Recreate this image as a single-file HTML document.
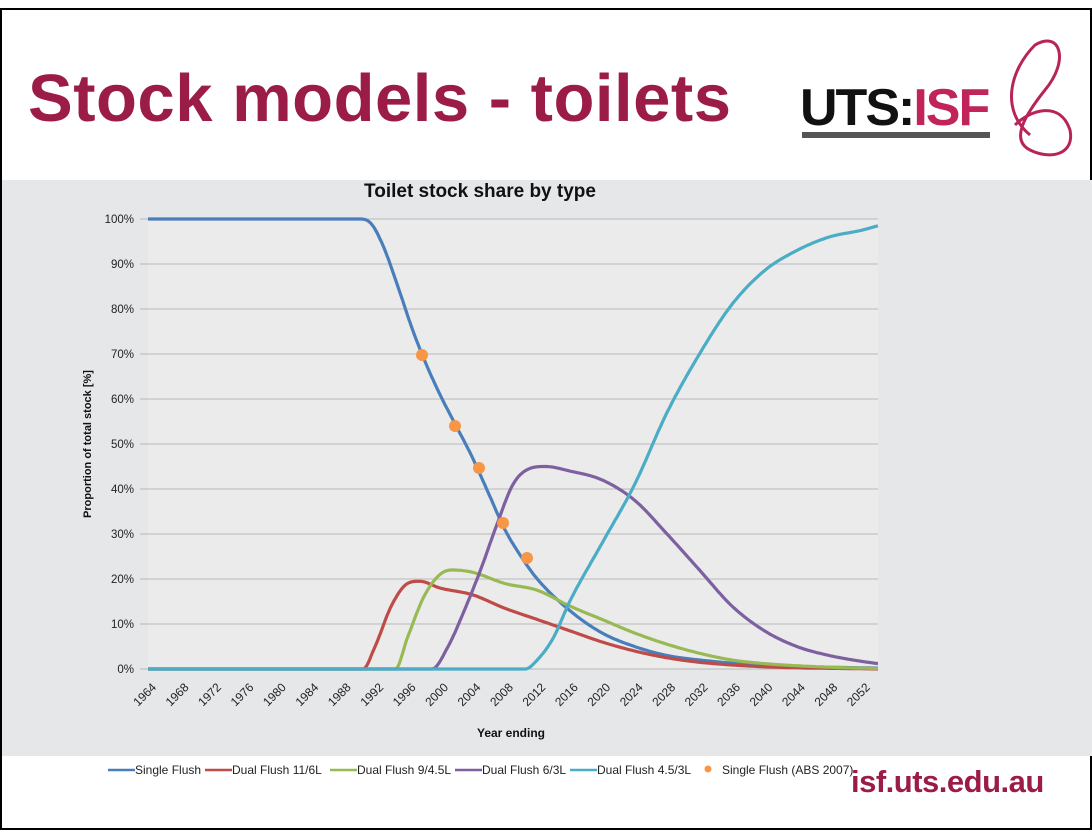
<!DOCTYPE html>
<html><head><meta charset="utf-8"><style>
body{margin:0;background:#fff;width:1092px;height:830px;overflow:hidden;position:relative;font-family:"Liberation Sans",Arial,sans-serif}
.frame{position:absolute;left:0;top:8px;width:1088px;height:818px;border:2px solid #000}
.gray{position:absolute;left:2px;top:180px;width:1090px;height:576px;background:#e5e7e9}
.t{position:absolute;left:28px;top:60px;font-size:67px;font-weight:bold;color:#9b1c47;letter-spacing:0.5px}
.url{position:absolute;left:851px;top:764px;font-size:31px;font-weight:bold;color:#9b1c47;letter-spacing:-0.5px}
</style></head><body>
<div class="frame"></div>
<div class="gray"></div>
<div class="t">Stock models - toilets</div>
<div style="position:absolute;left:800px;top:78px;font-size:52px;font-weight:bold;letter-spacing:-2px;color:#111">UTS:<span style="color:#c0245a">ISF</span></div>
<div style="position:absolute;left:802px;top:132px;width:188px;height:6px;background:#555"></div>
<svg style="position:absolute;left:990px;top:30px" width="95" height="135"><path d="M40 105 C10 80 20 40 45 15 C70 0 80 30 55 60 C35 85 20 110 40 120 C60 130 85 125 80 100 C70 70 40 80 25 95" fill="none" stroke="#b8245a" stroke-width="3"/></svg>
<div class="url">isf.uts.edu.au</div>
<svg id="c" style="position:absolute;left:0;top:0" width="1092" height="830"></svg>
<script>
var s=document.getElementById('c'),h='';
function X(y){return 148+(y-1964)*8.11}
function Y(p){return 669-p*4.5}
h+='<rect x="148" y="219" width="730" height="450" fill="#ebebeb"/>';
for(var i=0;i<=10;i++){var y=Y(i*10);h+='<line x1="140" x2="878" y1="'+y+'" y2="'+y+'" stroke="#b8b8b8" stroke-width="1"/>';
h+='<text x="134" y="'+(y+4)+'" font-size="11.5" text-anchor="end" fill="#222">'+(i*10)+'%</text>';}
for(var yr=1964;yr<=2052;yr+=4){var x=X(yr);h+='<text transform="translate('+(x+9)+',688) rotate(-45)" font-size="12" text-anchor="end" fill="#222">'+yr+'</text>';}
h+='<text x="480" y="197" font-size="19" font-weight="bold" text-anchor="middle" fill="#111">Toilet stock share by type</text>';
h+='<text x="511" y="737" font-size="12" font-weight="bold" text-anchor="middle" fill="#111">Year ending</text>';
h+='<text transform="translate(91,444) rotate(-90)" font-size="11" font-weight="bold" text-anchor="middle" fill="#111">Proportion of total stock [%]</text>';
var S=[
['#4a7ebb',[[1964,100],[1990,100],[1991.5,99],[1993,94],[1995,84],[1996.5,76],[1998,69],[2000,61],[2002,54],[2004,47],[2006,39],[2008,31],[2010,25],[2012,20],[2016,13],[2020,8],[2024,5],[2028,3],[2032,2],[2040,0.8],[2054,0.2]]],
['#be4b48',[[1964,0],[1990.5,0],[1992,5],[1994,14],[1996,19],[1997.5,19.5],[2000,18],[2004,16.5],[2008,13.5],[2012,11],[2016,8.5],[2020,6],[2024,4],[2028,2.5],[2032,1.5],[2040,0.5],[2054,0]]],
['#98b954',[[1964,0],[1994.5,0],[1996,7],[1998,16],[2000,21],[2001.5,22],[2004,21.5],[2008,19],[2012,17.5],[2016,14],[2020,11],[2024,8],[2028,5.5],[2032,3.5],[2036,2],[2040,1.2],[2048,0.4],[2054,0.1]]],
['#7d60a0',[[1964,0],[1999,0],[2001,5],[2003,13],[2005,22],[2007,32],[2009,41],[2011,44.5],[2013,45],[2016,44],[2020,42],[2024,37.5],[2028,30],[2032,22],[2036,14],[2040,8.5],[2044,5],[2048,3],[2052,1.7],[2054,1.2]]],
['#4bacc6',[[1964,0],[2010.5,0],[2012,2],[2014,7],[2016,15],[2020,28],[2024,41],[2028,57],[2032,70],[2036,81],[2040,88.5],[2044,93],[2048,96],[2052,97.5],[2054,98.5]]]];
function mono(p){var n=p.length,d=[],m=[];
for(var i=0;i<n-1;i++)d.push((p[i+1][1]-p[i][1])/(p[i+1][0]-p[i][0]));
m[0]=d[0];m[n-1]=d[n-2];
for(var i=1;i<n-1;i++){m[i]=(d[i-1]*d[i]<=0)?0:(d[i-1]+d[i])/2;}
for(var i=0;i<n-1;i++){if(d[i]==0){m[i]=0;m[i+1]=0;continue;}var a=m[i]/d[i],b=m[i+1]/d[i],t=a*a+b*b;if(t>9){var k=3/Math.sqrt(t);m[i]=k*a*d[i];m[i+1]=k*b*d[i];}}
var pts=[];
for(var i=0;i<n-1;i++){var x0=p[i][0],x1=p[i+1][0],hh=x1-x0;
for(var j=0;j<20;j++){var t=j/20,t2=t*t,t3=t2*t;
var v=(2*t3-3*t2+1)*p[i][1]+(t3-2*t2+t)*hh*m[i]+(-2*t3+3*t2)*p[i+1][1]+(t3-t2)*hh*m[i+1];
pts.push(X(x0+t*hh).toFixed(1)+','+Y(v).toFixed(1));}}
pts.push(X(p[n-1][0])+','+Y(p[n-1][1]));return pts.join(' ');}
S.forEach(function(a){h+='<polyline points="'+mono(a[1])+'" fill="none" stroke="'+a[0]+'" stroke-width="3.2" stroke-linejoin="round"/>';});
[[422,355],[455,426],[479,468],[503,523],[527,558]].forEach(function(q){h+='<circle cx="'+q[0]+'" cy="'+q[1]+'" r="6" fill="#f79646"/>';});
var L=[['#4a7ebb','Single Flush',108],['#be4b48','Dual Flush 11/6L',205],['#98b954','Dual Flush 9/4.5L',330],['#7d60a0','Dual Flush 6/3L',455],['#4bacc6','Dual Flush 4.5/3L',570]];
L.forEach(function(l){h+='<line x1="'+l[2]+'" x2="'+(l[2]+27)+'" y1="770" y2="770" stroke="'+l[0]+'" stroke-width="2.5"/><text x="'+(l[2]+27)+'" y="774" font-size="12" fill="#222">'+l[1]+'</text>';});
h+='<circle cx="708" cy="769" r="3.5" fill="#f79646"/><text x="722" y="774" font-size="12" fill="#222">Single Flush (ABS 2007)</text>';
s.innerHTML=h;
</script>
</body></html>
